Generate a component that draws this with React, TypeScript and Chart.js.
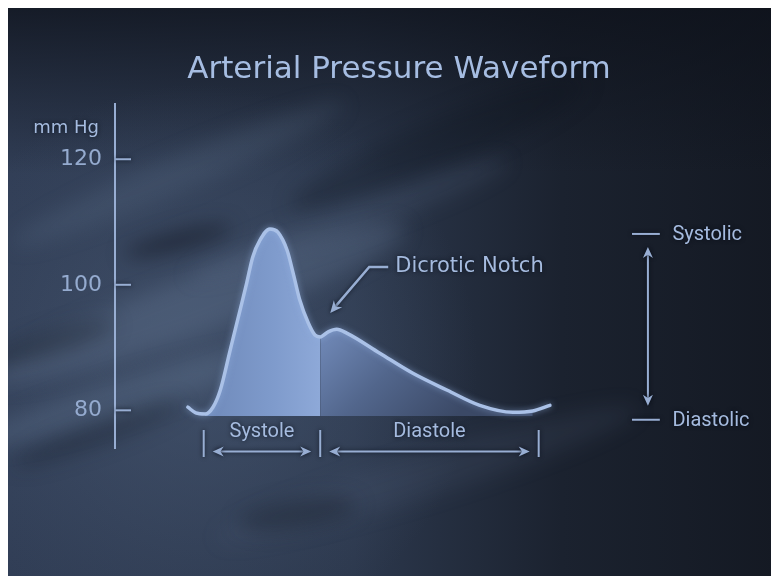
import { useEffect, useRef } from "react";
import { Chart, registerables } from "chart.js";

Chart.register(...registerables);

// ---------------- data ----------------
const timeMs = [110, 122, 136, 148, 159, 174, 189, 199, 208, 219, 234, 246, 260, 269, 279, 292, 302, 310, 322, 335, 350, 400, 450, 502, 551, 601, 631, 657];
const pressureMmHg = [80.5, 79.6, 79.4, 80.5, 83.2, 89.6, 96.0, 100.3, 104.4, 107.1, 108.9, 108.4, 105.5, 101.9, 97.6, 93.9, 92.0, 91.7, 92.5, 92.9, 92.3, 89.1, 85.9, 83.2, 80.8, 79.7, 79.9, 80.8];
const yTickValues = [80, 100, 120];
const phaseLabels = ["Systole", "Diastole"];
const phaseBoundsMs = [134, 310, 640];
const levelLabels = ["Systolic", "Diastolic"];
const levelValues = [108.1, 78.5];
const notchLabel = "Dicrotic Notch";
const notchIndex = 17;
const systoleStartIndex = 2;
const diastoleEndIndex = 26;
const fillBaseline = 79.1;
const titleText = "Arterial Pressure Waveform";
const unitLabel = "mm Hg";

// ---------------- style ----------------
const FONT = '"DejaVu Sans", "Noto Sans", sans-serif';
const LABEL_FONT = 'Roboto, "DejaVu Sans", sans-serif';
const TEXT_COLOR = "#a5bbdf";
const LINE_COLOR = "#98aed3";
const CURVE_COLOR = "#aac1e7";

const points = timeMs.map((t, i) => ({ x: t, y: pressureMmHg[i] }));
const systolePoints = points.slice(systoleStartIndex, notchIndex + 1);
const diastolePoints = points.slice(notchIndex, diastoleEndIndex + 1);

function arrowHead(ctx: CanvasRenderingContext2D, x: number, y: number, angle: number, len = 11, half = 5) {
  const c = Math.cos(angle);
  const s = Math.sin(angle);
  ctx.beginPath();
  ctx.moveTo(x, y);
  ctx.lineTo(x - len * c + half * s, y - len * s - half * c);
  ctx.lineTo(x - len * 0.7 * c, y - len * 0.7 * s);
  ctx.lineTo(x - len * c - half * s, y - len * s + half * c);
  ctx.closePath();
  ctx.fill();
}

function line(ctx: CanvasRenderingContext2D, x1: number, y1: number, x2: number, y2: number) {
  ctx.beginPath();
  ctx.moveTo(x1, y1);
  ctx.lineTo(x2, y2);
  ctx.stroke();
}

function text(ctx: CanvasRenderingContext2D, s: string, x: number, y: number, size: number, align: CanvasTextAlign, family = FONT) {
  ctx.font = `${size}px ${family}`;
  ctx.textAlign = align;
  ctx.textBaseline = "middle";
  ctx.fillStyle = TEXT_COLOR;
  ctx.fillText(s, x, y);
}

const backgroundPlugin = {
  id: "texturedBackground",
  beforeDraw(chart: any) {
    const { ctx, width, height } = chart;
    ctx.save();
    const base = ctx.createLinearGradient(0, 0, width, 0);
    base.addColorStop(0, "#313e56");
    base.addColorStop(0.45, "#2c384d");
    base.addColorStop(0.72, "#1b222f");
    base.addColorStop(1, "#141923");
    ctx.fillStyle = base;
    ctx.fillRect(0, 0, width, height);

    const top = ctx.createLinearGradient(0, 0, 0, 170);
    top.addColorStop(0, "rgba(14,18,27,0.8)");
    top.addColorStop(1, "rgba(14,18,27,0)");
    ctx.fillStyle = top;
    ctx.fillRect(0, 0, width, 170);

    const rg = ctx.createRadialGradient(190, 360, 10, 190, 360, 280);
    rg.addColorStop(0, "rgba(80,98,126,0.5)");
    rg.addColorStop(1, "rgba(80,98,126,0)");
    ctx.fillStyle = rg;
    ctx.fillRect(0, 0, width, height);

    const streaks = [
      [190, 300, 220, 28, -0.35, "rgba(105,125,155,0.3)"],
      [170, 170, 180, 18, -0.4, "rgba(105,125,155,0.18)"],
      [340, 215, 170, 16, -0.35, "rgba(105,125,155,0.16)"],
      [110, 395, 160, 18, -0.3, "rgba(105,125,155,0.28)"],
      [420, 470, 220, 22, -0.3, "rgba(105,125,155,0.12)"],
      [170, 237, 55, 9, -0.25, "rgba(14,19,29,0.55)"],
      [40, 340, 70, 11, -0.3, "rgba(14,19,29,0.35)"],
      [290, 510, 60, 14, -0.15, "rgba(14,19,29,0.35)"],
      [90, 430, 90, 11, -0.35, "rgba(14,19,29,0.3)"],
      [430, 140, 160, 24, -0.4, "rgba(14,19,29,0.3)"],
    ] as const;
    ctx.filter = "blur(10px)";
    for (const [cx, cy, rx, ry, a, col] of streaks) {
      ctx.beginPath();
      ctx.ellipse(cx, cy, rx, ry, a, 0, Math.PI * 2);
      ctx.fillStyle = col;
      ctx.fill();
    }
    ctx.filter = "none";
    ctx.restore();
  },
};

const glowPlugin = {
  id: "curveGlow",
  beforeDatasetDraw(chart: any, args: any) {
    if (args.index === 0) {
      chart.ctx.save();
      chart.ctx.shadowColor = "rgba(150,180,230,0.6)";
      chart.ctx.shadowBlur = 6;
    }
  },
  afterDatasetDraw(chart: any, args: any) {
    if (args.index === 0) chart.ctx.restore();
  },
};

const annotationPlugin = {
  id: "annotations",
  afterDraw(chart: any) {
    const { ctx, chartArea, scales } = chart;
    const xs = scales.x;
    const ys = scales.y;
    ctx.save();
    ctx.shadowColor = "rgba(5,10,20,0.7)";
    ctx.shadowBlur = 4;
    ctx.strokeStyle = LINE_COLOR;
    ctx.fillStyle = LINE_COLOR;
    ctx.lineWidth = 2;

    // tick marks on the inside of the axis
    for (const v of yTickValues) {
      const y = ys.getPixelForValue(v);
      line(ctx, chartArea.left, y, chartArea.left + 16, y);
    }
    // unit label
    text(ctx, unitLabel, chartArea.left - 16, chartArea.top + 24, 18, "right");

    // dicrotic notch pointer
    const nx = xs.getPixelForValue(timeMs[notchIndex]);
    const ny = ys.getPixelForValue(pressureMmHg[notchIndex]);
    ctx.strokeStyle = LINE_COLOR;
    ctx.lineWidth = 2.5;
    ctx.beginPath();
    ctx.moveTo(nx + 68, ny - 70);
    ctx.lineTo(nx + 49, ny - 70);
    ctx.lineTo(nx + 14, ny - 29);
    ctx.stroke();
    ctx.lineWidth = 2;
    ctx.fillStyle = LINE_COLOR;
    arrowHead(ctx, nx + 10, ny - 24, Math.atan2(41, -35), 12, 5.5);
    text(ctx, notchLabel, nx + 75, ny - 70, 21, "left");

    // systole / diastole brackets
    const bottom = chartArea.bottom;
    const bx = phaseBoundsMs.map((t) => xs.getPixelForValue(t));
    ctx.strokeStyle = LINE_COLOR;
    ctx.fillStyle = LINE_COLOR;
    for (const x of bx) line(ctx, x, bottom - 18, x, bottom + 9);
    const ay = bottom + 3.5;
    for (let i = 0; i < phaseLabels.length; i++) {
      const x1 = bx[i] + 9;
      const x2 = bx[i + 1] - 9;
      ctx.strokeStyle = LINE_COLOR;
      line(ctx, x1 + 4, ay, x2 - 4, ay);
      ctx.fillStyle = LINE_COLOR;
      arrowHead(ctx, x1, ay, Math.PI);
      arrowHead(ctx, x2, ay, 0);
      text(ctx, phaseLabels[i], (bx[i] + bx[i + 1]) / 2, bottom - 16, 20, "center", LABEL_FONT);
    }

    // systolic / diastolic range marker
    const lx1 = xs.getPixelForValue(781);
    const lx2 = xs.getPixelForValue(823);
    const axx = xs.getPixelForValue(805);
    const tx = xs.getPixelForValue(842);
    const ly = levelValues.map((v) => ys.getPixelForValue(v));
    ctx.strokeStyle = LINE_COLOR;
    for (let i = 0; i < levelLabels.length; i++) {
      line(ctx, lx1, ly[i], lx2, ly[i]);
      text(ctx, levelLabels[i], tx, ly[i] + 1, 20, "left", LABEL_FONT);
    }
    ctx.strokeStyle = LINE_COLOR;
    line(ctx, axx, ly[0] + 17, axx, ly[1] - 18);
    ctx.fillStyle = LINE_COLOR;
    arrowHead(ctx, axx, ly[0] + 13, -Math.PI / 2);
    arrowHead(ctx, axx, ly[1] - 14, Math.PI / 2);
    ctx.restore();
  },
};

export default function App() {
  const ref = useRef<HTMLCanvasElement>(null);
  useEffect(() => {
    const chart = new Chart(ref.current as HTMLCanvasElement, {
      type: "line",
      data: {
        datasets: [
          {
            label: "Arterial pressure",
            data: points,
            borderColor: CURVE_COLOR,
            borderWidth: 3.5,
            pointRadius: 0,
            fill: false,
            cubicInterpolationMode: "monotone",
            borderCapStyle: "round",
          },
          {
            label: "Systole",
            data: systolePoints,
            borderWidth: 0,
            borderColor: "rgba(0,0,0,0)",
            pointRadius: 0,
            cubicInterpolationMode: "monotone",
            fill: { value: fillBaseline },
            backgroundColor: (c: any) => {
              const { chart } = c;
              const { ctx, chartArea, scales } = chart;
              if (!chartArea) return "#7f9bcc";
              const x0 = scales.x.getPixelForValue(timeMs[systoleStartIndex]);
              const x1 = scales.x.getPixelForValue(timeMs[notchIndex]);
              const g = ctx.createLinearGradient(x0, 0, x1, 0);
              g.addColorStop(0, "#6f8aba");
              g.addColorStop(0.6, "#7f9bcc");
              g.addColorStop(1, "#8ea9d8");
              return g;
            },
          },
          {
            label: "Diastole",
            data: diastolePoints,
            borderWidth: 0,
            borderColor: "rgba(0,0,0,0)",
            pointRadius: 0,
            cubicInterpolationMode: "monotone",
            fill: { value: fillBaseline },
            backgroundColor: (c: any) => {
              const { chart } = c;
              const { ctx, chartArea, scales } = chart;
              if (!chartArea) return "#5a6e96";
              const xn = scales.x.getPixelForValue(timeMs[notchIndex]);
              const yt = scales.y.getPixelForValue(93);
              const yb = scales.y.getPixelForValue(fillBaseline);
              const g = ctx.createLinearGradient(xn, yt, xn + 110, yb + 25);
              g.addColorStop(0, "#728bba");
              g.addColorStop(0.5, "#52668c");
              g.addColorStop(1, "#3b4966");
              return g;
            },
          },
        ],
      },
      options: {
        responsive: false,
        animation: false,
        layout: { padding: { left: 13, right: 0, top: 0, bottom: 128 } },
        plugins: {
          legend: { display: false },
          tooltip: { enabled: false },
          title: {
            display: true,
            text: titleText,
            color: "#a6bde2",
            font: { family: FONT, size: 31, weight: "normal", lineHeight: 1.2 },
            padding: { top: 47, bottom: 15.8 },
          },
        },
        scales: {
          x: { type: "linear", min: 0, max: 1000, display: false },
          y: {
            type: "linear",
            min: 74,
            max: 128.8,
            afterFit: (s: any) => {
              s.width = 94;
            },
            afterBuildTicks: (s: any) => {
              s.ticks = yTickValues.map((v) => ({ value: v }));
            },
            grid: { display: false, drawTicks: false },
            border: { display: true, color: LINE_COLOR, width: 2 },
            ticks: { color: "#95abcf", font: { family: FONT, size: 22 }, padding: 13 },
          },
        },
      },
      plugins: [backgroundPlugin, glowPlugin, annotationPlugin],
    } as any);
    return () => chart.destroy();
  }, []);
  return (
    <div style={{ width: 769, height: 572, position: "relative", top: -4 }}>
      <canvas ref={ref} width={769} height={572} style={{ display: "block" }} />
    </div>
  );
}
